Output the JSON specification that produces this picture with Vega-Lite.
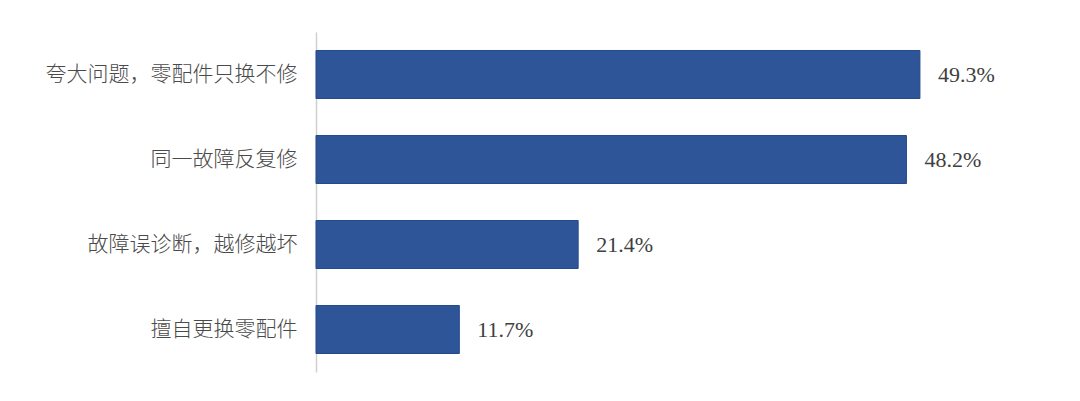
{
  "$schema": "https://vega.github.io/schema/vega-lite/v6.json",
  "autosize": {"type": "none"},
  "width": 735,
  "height": 340,
  "padding": {"left": 316, "top": 32, "right": 29, "bottom": 29},
  "background": "white",
  "config": {"view": {"stroke": null}},
  "data": {"values": [
    {"category": "夸大问题，零配件只换不修", "value": 49.3, "label": "49.3%"},
    {"category": "同一故障反复修", "value": 48.2, "label": "48.2%"},
    {"category": "故障误诊断，越修越坏", "value": 21.4, "label": "21.4%"},
    {"category": "擅自更换零配件", "value": 11.7, "label": "11.7%"}
  ]},
  "encoding": {
    "y": {
      "field": "category", "type": "nominal", "sort": null,
      "scale": {"paddingInner": 0.435, "paddingOuter": 0.2175},
      "axis": {
        "title": null, "ticks": false, "labelPadding": 19,
        "labelFont": "Noto Sans CJK SC", "labelFontSize": 21, "labelFontWeight": 300, "labelColor": "#4a4a4a",
        "labelLimit": 400, "domainColor": "#d0d0d0", "domainWidth": 1.5, "grid": false
      }
    },
    "x": {
      "field": "value", "type": "quantitative",
      "scale": {"domain": [0, 60], "nice": false},
      "axis": null
    }
  },
  "layer": [
    {"mark": {"type": "bar", "color": "#2E5597", "stroke": "#244a8a", "strokeWidth": 1}},
    {"mark": {"type": "text", "align": "left", "baseline": "middle", "dx": 18, "font": "Liberation Serif", "fontSize": 22, "color": "#404040"},
     "encoding": {"text": {"field": "label"}}}
  ]
}
